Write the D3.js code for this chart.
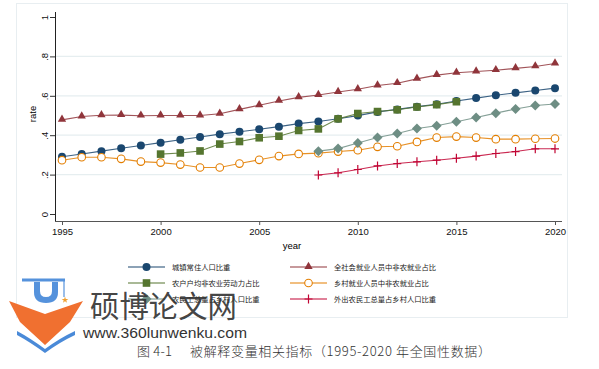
<!DOCTYPE html>
<html><head><meta charset="utf-8">
<script src="https://cdn.jsdelivr.net/npm/d3@7"></script>
<style>body{margin:0;background:#fff}svg{display:block}</style>
</head><body>
<svg id="c" width="599" height="369"></svg>
<script>
const years = d3.range(1995, 2021);
const yTicks = [0, 0.2, 0.4, 0.6, 0.8, 1];
const yTickLabels = ["0", ".2", ".4", ".6", ".8", "1"];
const xTicks = [1995, 2000, 2005, 2010, 2015, 2020];

const urbanYears = d3.range(1995, 2021);
const urban = [0.2904,0.3048,0.3191,0.3335,0.3478,0.3622,0.3766,0.3909,0.4053,0.4176,0.4299,0.4434,0.4589,0.4699,0.4834,0.4995,0.5183,0.5310,0.5449,0.5575,0.5733,0.5884,0.6024,0.6150,0.6271,0.6389];

const nonagYears = d3.range(1995, 2021);
const nonag = [0.478,0.495,0.501,0.502,0.499,0.500,0.500,0.500,0.509,0.531,0.552,0.574,0.592,0.604,0.619,0.633,0.652,0.664,0.686,0.705,0.717,0.723,0.730,0.739,0.749,0.764];

const hhYears = d3.range(2000, 2016);
const hh = [0.304,0.310,0.320,0.355,0.368,0.387,0.395,0.424,0.432,0.483,0.510,0.520,0.529,0.543,0.555,0.570];

const migYears = d3.range(2008, 2021);
const mig = [0.319,0.332,0.360,0.388,0.409,0.434,0.448,0.468,0.490,0.512,0.533,0.551,0.558];

const ruralYears = d3.range(1995, 2021);
const rural = [0.273,0.288,0.288,0.280,0.266,0.261,0.251,0.236,0.236,0.256,0.275,0.294,0.305,0.309,0.317,0.324,0.341,0.344,0.366,0.388,0.393,0.388,0.380,0.380,0.382,0.383];

const outYears = d3.range(2008, 2021);
const outmig = [0.198,0.209,0.226,0.244,0.256,0.265,0.273,0.283,0.294,0.307,0.317,0.331,0.331];

const seriesNames = ["城镇常住人口比重","全社会就业人员中非农就业占比","农户户均非农业劳动力占比","乡村就业人员中非农就业占比","农民工总量占乡村人口比重","外出农民工总量占乡村人口比重"];

const series = [
  {name: seriesNames[0], xs: urbanYears, ys: urban, color: "#1a476f", sym: "circle"},
  {name: seriesNames[1], xs: nonagYears, ys: nonag, color: "#90353b", sym: "triangle"},
  {name: seriesNames[2], xs: hhYears, ys: hh, color: "#55752f", sym: "square"},
  {name: seriesNames[3], xs: ruralYears, ys: rural, color: "#e37e00", sym: "ocircle"},
  {name: seriesNames[4], xs: migYears, ys: mig, color: "#6e8e84", sym: "diamond"},
  {name: seriesNames[5], xs: outYears, ys: outmig, color: "#c10534", sym: "plus"}
];

const svg = d3.select("#c");
const x = d3.scaleLinear().domain([1995, 2020]).range([62, 555]);
const y = d3.scaleLinear().domain([0, 1]).range([214, 17]);

// outer panel
svg.append("rect").attr("x", 16.5).attr("y", 3.5).attr("width", 551).attr("height", 314)
  .attr("fill", "#fff").attr("stroke", "#e8eef1").attr("stroke-width", 1);

// gridlines
svg.append("g").selectAll("line").data([0.2,0.4,0.6,0.8]).join("line")
  .attr("x1", 55).attr("x2", 562).attr("y1", d => y(d)).attr("y2", d => y(d))
  .attr("stroke", "#e6eef0").attr("stroke-width", 1.2);

// axes
const yAxis = d3.axisLeft(y).tickValues(yTicks).tickFormat((d,i) => yTickLabels[i]).tickSize(5).tickSizeOuter(0);
const gy = svg.append("g").attr("transform", "translate(55,0)").call(yAxis);
gy.select(".domain").attr("d", "M0.5,12V221").attr("stroke", "#222");
gy.selectAll(".tick line").attr("stroke", "#333");
gy.selectAll(".tick text").attr("font-family", "Liberation Sans, Arial, sans-serif").attr("font-size", 9.5)
  .attr("fill", "#111").attr("text-anchor", "middle").attr("x", 0).attr("dy", 0)
  .attr("transform", "translate(-11,0) rotate(-90)").attr("dominant-baseline", "central");

const xAxis = d3.axisBottom(x).tickValues(xTicks).tickFormat(d3.format("d")).tickSize(4).tickSizeOuter(0);
const gx = svg.append("g").attr("transform", "translate(0,221)").call(xAxis);
gx.select(".domain").attr("d", "M55,0.5H562").attr("stroke", "#555");
gx.selectAll(".tick line").attr("stroke", "#555");
gx.selectAll(".tick text").attr("font-family", "Liberation Sans, Arial, sans-serif").attr("font-size", 9.5)
  .attr("fill", "#111").attr("y", 7);

svg.append("text").attr("transform", "translate(32,114) rotate(-90)").attr("text-anchor", "middle")
  .attr("dominant-baseline", "central")
  .attr("font-family", "Liberation Sans, Arial, sans-serif").attr("font-size", 9.5).text("rate");
svg.append("text").attr("x", 292).attr("y", 249).attr("text-anchor", "middle")
  .attr("font-family", "Liberation Sans, Arial, sans-serif").attr("font-size", 9.5).text("year");

function drawMarker(g, sym, color, cx, cy) {
  if (sym === "circle") {
    g.append("circle").attr("cx", cx).attr("cy", cy).attr("r", 4).attr("fill", color);
  } else if (sym === "ocircle") {
    g.append("circle").attr("cx", cx).attr("cy", cy).attr("r", 3.8).attr("fill", "#fff").attr("stroke", color).attr("stroke-width", 1.1);
  } else if (sym === "triangle") {
    g.append("path").attr("d", d3.symbol(d3.symbolTriangle, 30)()).attr("transform", `translate(${cx},${cy-0.5})`).attr("fill", color);
  } else if (sym === "square") {
    g.append("rect").attr("x", cx-3.8).attr("y", cy-3.8).attr("width", 7.6).attr("height", 7.6).attr("fill", color);
  } else if (sym === "diamond") {
    g.append("path").attr("d", `M${cx},${cy-5}L${cx+5},${cy}L${cx},${cy+5}L${cx-5},${cy}Z`).attr("fill", color);
  } else if (sym === "plus") {
    g.append("path").attr("d", `M${cx-4},${cy}H${cx+4}M${cx},${cy-4.5}V${cx===cx?cy+4.5:0}`).attr("stroke", color).attr("stroke-width", 1.2).attr("fill", "none");
  }
}

const plot = svg.append("g");
series.forEach(s => {
  const pts = s.xs.map((yr, i) => [x(yr), y(s.ys[i])]);
  plot.append("path").attr("d", d3.line()(pts)).attr("fill", "none").attr("stroke", s.color)
    .attr("stroke-width", 1.1).attr("stroke-opacity", 0.85);
  const mg = plot.append("g");
  pts.forEach(p => drawMarker(mg, s.sym, s.color, p[0], p[1]));
});

// legend
const legendPos = [[128,267],[290,267],[128,283],[290,283],[128,299],[290,299]];
const legendOrder = [0,1,2,3,4,5];
const lg = svg.append("g");
legendOrder.forEach((si, k) => {
  const s = series[si];
  const [lx, ly] = legendPos[k];
  lg.append("line").attr("x1", lx).attr("x2", lx+37).attr("y1", ly).attr("y2", ly)
    .attr("stroke", s.color).attr("stroke-width", 1.1);
  drawMarker(lg, s.sym, s.color, lx+18.5, ly);
  lg.append("text").attr("x", lx+44).attr("y", ly).attr("dominant-baseline", "central")
    .attr("font-family", "Noto Sans CJK SC, sans-serif").attr("font-size", 7.3).attr("fill", "#222")
    .text(s.name);
});

// watermark logo
const logo = svg.append("g");
logo.append("path").attr("d", "M9,301 L45,314 L83,301 L70,322 L45,345 L20,322 Z").attr("fill", "#f07030");
logo.append("path").attr("d", "M17,331 Q30,338 45,349 Q60,338 75,331 L75,335 Q60,342 45,353 Q30,342 17,335 Z").attr("fill", "#4a8ad8");
logo.append("rect").attr("x", 22).attr("y", 278.5).attr("width", 43).attr("height", 3).attr("fill", "#5592dc");
logo.append("path").attr("d", "M34,282 H58 V292 Q58,303 46,303 Q34,303 34,292 Z").attr("fill", "#5592dc");
logo.append("path").attr("d", "M40,282 V291 Q40,297 46,297 Q52,297 52,291 V282 Z").attr("fill", "#fff");
logo.append("line").attr("x1", 64).attr("x2", 64).attr("y1", 281).attr("y2", 297).attr("stroke", "#5592dc").attr("stroke-width", 1.2);
logo.append("path").attr("d", d3.symbol(d3.symbolStar, 14)()).attr("transform", "translate(65,300)").attr("fill", "#f0a030");

svg.append("text").attr("x", 90).attr("y", 304).attr("dominant-baseline", "central")
  .attr("font-family", "Noto Sans CJK SC, sans-serif").attr("font-size", 30).attr("fill", "#333")
  .attr("fill-opacity", 0.92).attr("textLength", 147).attr("lengthAdjust", "spacingAndGlyphs").text("硕博论文网");
svg.append("text").attr("x", 83).attr("y", 338)
  .attr("font-family", "Liberation Sans, Arial, sans-serif").attr("font-size", 15.5).attr("fill", "#333")
  .attr("textLength", 164).attr("lengthAdjust", "spacingAndGlyphs").text("www.360lunwenku.com");

// caption
svg.append("text").attr("x", 137).attr("y", 356)
  .attr("font-family", "Noto Sans CJK SC, sans-serif").attr("font-weight", 300).attr("font-size", 13).attr("fill", "#333")
  .attr("textLength", 35).attr("lengthAdjust", "spacing").text("图 4-1");
svg.append("text").attr("x", 190).attr("y", 356)
  .attr("font-family", "Noto Sans CJK SC, sans-serif").attr("font-weight", 300).attr("font-size", 13).attr("fill", "#333")
  .attr("textLength", 301).attr("lengthAdjust", "spacing").text("被解释变量相关指标（1995-2020 年全国性数据）");
</script>
</body></html>
